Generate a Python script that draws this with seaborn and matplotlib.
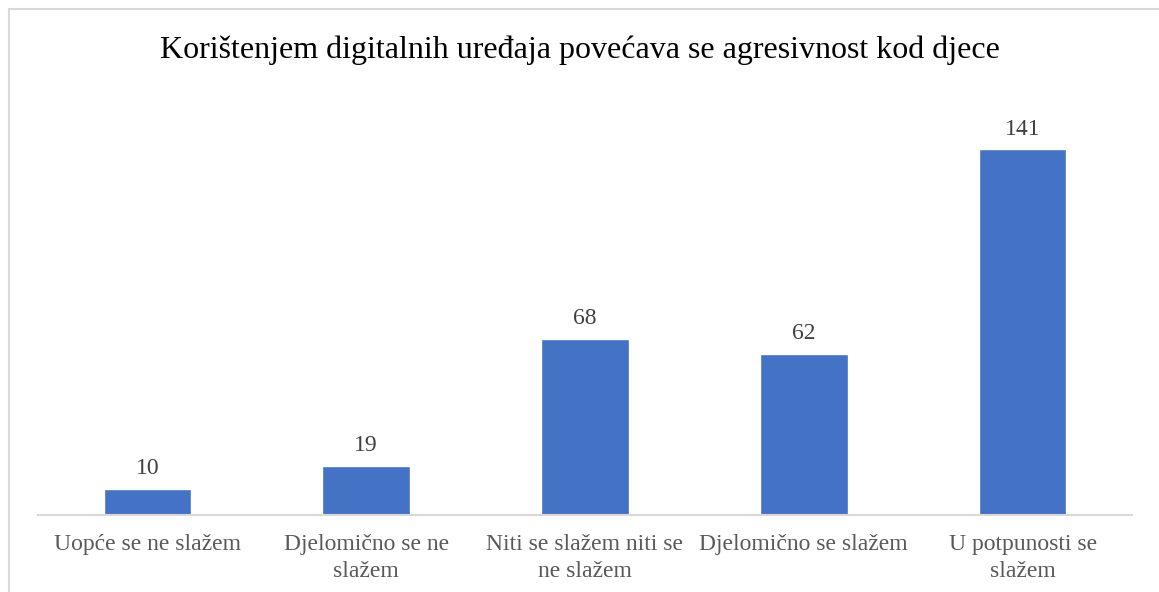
import pandas as pd
import matplotlib
matplotlib.use("Agg")
import matplotlib.pyplot as plt
import matplotlib.patches as mpatches
import seaborn as sns

# 데이터
categories = [
    "Uopće se ne slažem",
    "Djelomično se ne\nslažem",
    "Niti se slažem niti se\nne slažem",
    "Djelomično se slažem",
    "U potpunosti se\nslažem",
]
counts = [10, 19, 68, 62, 141]
title = "Korištenjem digitalnih uređaja povećava se agresivnost kod djece"

sns.set_style("white")
plt.rcParams["font.family"] = ["Liberation Serif", "DejaVu Serif"]

df = pd.DataFrame({"category": categories, "count": counts})

fig = plt.figure(figsize=(11.59, 5.92), dpi=100)
ax = fig.add_axes([38 / 1159, 77 / 592, (1132 - 38) / 1159, (492 - 77) / 592])

sns.barplot(data=df, x="category", y="count", color="#4472C4", width=0.4,
            saturation=1, ax=ax)

# 값 라벨
for p, v in zip(ax.patches, counts):
    ax.annotate(f"{v}", (p.get_x() + p.get_width() / 2., p.get_height()),
                ha="center", va="bottom", fontsize=17, color="#404040",
                xytext=(0, 7), textcoords="offset points")

ax.set_ylim(0, 160)
ax.set_xlim(-0.5, 4.5)
ax.set_yticks([])
ax.set_xlabel("")
ax.set_ylabel("")
ax.tick_params(axis="x", length=0, pad=14, labelsize=17, labelcolor="#595959")
for lbl in ax.get_xticklabels():
    lbl.set_linespacing(1.35)
for s in ["top", "right", "left"]:
    ax.spines[s].set_visible(False)
ax.spines["bottom"].set_color("#d9d9d9")
ax.spines["bottom"].set_linewidth(1.5)

fig.text(0.5, 1 - 50 / 592, title, ha="center", va="center", fontsize=23,
         color="black")

# 바깥 테두리
fig.patches.append(mpatches.Rectangle((9 / 1159, -0.1), 1.2, 1 - 9 / 592 + 0.1,
                                      transform=fig.transFigure, fill=False,
                                      edgecolor="#d9d9d9", linewidth=1.5))

fig.savefig("out.png", dpi=100)
plt.close(fig)
